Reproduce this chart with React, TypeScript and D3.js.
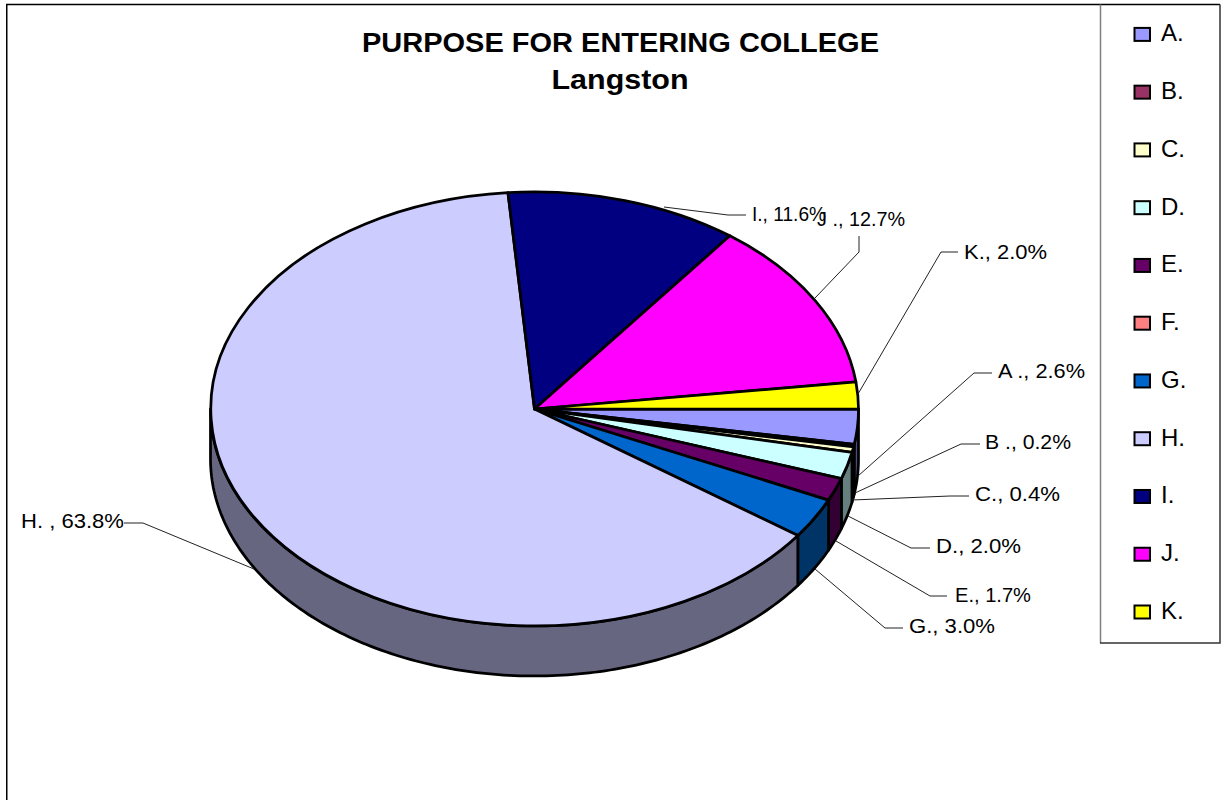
import React from "react";
import * as d3 from "d3";

// Survey shares for each stated purpose, in percent.
const categories = ["A.", "B.", "C.", "D.", "E.", "F.", "G.", "H.", "I.", "J.", "K."];
const shares = [2.6, 0.2, 0.4, 2.0, 1.7, 0.0, 3.0, 63.8, 11.6, 12.7, 2.0];
const colors = ["#9999FF", "#993366", "#FFFFCC", "#CCFFFF", "#660066", "#FF8080", "#0066CC", "#CCCCFF", "#000080", "#FF00FF", "#FFFF00"];
const sliceLabels = ["A ., 2.6%", "B ., 0.2%", "C., 0.4%", "D., 2.0%", "E., 1.7%", "", "G., 3.0%", "H. , 63.8%", "I., 11.6%", "J ., 12.7%", "K., 2.0%"];

// Label anchors, set widths and leader lines, by category letter.
const labelLayout: Record<string, { x: number; y: number; w: number; leader: [number, number][] }> = {
  "A.": { x: 998, y: 378, w: 87, leader: [[992, 373], [974, 373], [858, 476]] },
  "B.": { x: 985, y: 449, w: 86, leader: [[980, 444], [961, 444], [855, 493]] },
  "C.": { x: 975, y: 501, w: 85, leader: [[969, 496], [950, 496], [852, 500]] },
  "D.": { x: 936, y: 553, w: 85, leader: [[930, 548], [911, 548], [848, 516]] },
  "E.": { x: 955, y: 602, w: 76, leader: [[947, 596], [930, 596], [836, 541]] },
  "G.": { x: 909, y: 633, w: 86, leader: [[903, 628], [885, 628], [815, 569]] },
  "H.": { x: 21, y: 528, w: 103, leader: [[124, 523], [143, 523], [254, 569]] },
  "I.": { x: 752, y: 221, w: 74, leader: [[746, 215], [728, 215], [664, 207]] },
  "J.": { x: 817, y: 226, w: 88, leader: [[859, 236], [859, 252], [815, 298]] },
  "K.": { x: 964, y: 259, w: 83, leader: [[958, 252], [941, 252], [858, 394]] },
};

const width = 1221;
const height = 800;
const cx = 534.5;
const cy = 409;
const rx = 324;
const ry = 217;
const depth = 50;
const font = "'Liberation Sans', Arial, sans-serif";

const pie = d3
  .pie<number>()
  .sort(null)
  .startAngle(Math.PI / 2)
  .endAngle(Math.PI / 2 + 2 * Math.PI);
const arcs = pie(shares);
const topArc = d3.arc<d3.PieArcDatum<number>>().innerRadius(0).outerRadius(1);

const ellipsePoint = (a: number, dy = 0): [number, number] => [
  cx + rx * Math.sin(a),
  cy - ry * Math.cos(a) + dy,
];

// Outer wall of a slice: only the stretch facing the viewer is visible.
const wallPath = (start: number, end: number): string | null => {
  const a0 = Math.max(start, Math.PI / 2);
  const a1 = Math.min(end, (3 * Math.PI) / 2);
  if (a1 <= a0) return null;
  const n = Math.max(2, Math.ceil((a1 - a0) * 60));
  const rim = d3.range(n + 1).map((i) => a0 + ((a1 - a0) * i) / n);
  const pts = [
    ...rim.map((a) => ellipsePoint(a)),
    ...rim.slice().reverse().map((a) => ellipsePoint(a, depth)),
  ];
  return d3.line()(pts) + "Z";
};

const darken = (c: string) => {
  const { r, g, b } = d3.rgb(c);
  return d3.rgb(r / 2, g / 2, b / 2).formatHex();
};

const legendY = d3
  .scalePoint<string>()
  .domain(categories)
  .range([34.4, 612]);

export default function App() {
  return (
    <svg
      width={width}
      height={height}
      viewBox={`0 0 ${width} ${height}`}
      style={{ position: "absolute", left: 0, top: 0, display: "block", background: "#fff" }}
    >
      <path d={`M6.75 ${height}V4.5H1220`} fill="none" stroke="#000" strokeWidth={1.5} />

      <g fontFamily={font} fontWeight="bold" fontSize={27.5} fill="#000">
        <text x={362} y={52} textLength={517} lengthAdjust="spacingAndGlyphs">PURPOSE FOR ENTERING COLLEGE</text>
        <text x={551.5} y={89} textLength={137} lengthAdjust="spacingAndGlyphs">Langston</text>
      </g>

      {arcs.map((d, i) => {
        const p = d.value > 0 ? wallPath(d.startAngle, d.endAngle) : null;
        return p ? (
          <path key={categories[i]} d={p} fill={darken(colors[i])} stroke="#000" strokeWidth={2.75} strokeLinejoin="round" />
        ) : null;
      })}

      <g transform={`translate(${cx},${cy}) scale(${rx},${ry})`}>
        {arcs.map((d, i) =>
          d.value > 0 ? (
            <path
              key={categories[i]}
              d={topArc(d) as string}
              fill={colors[i]}
              stroke="#000"
              strokeWidth={2.75}
              strokeLinejoin="round"
              vectorEffect="non-scaling-stroke"
            />
          ) : null
        )}
      </g>

      {categories.map((c, i) => {
        const l = labelLayout[c];
        return l ? (
          <g key={c}>
            <polyline points={l.leader.map((p) => p.join(",")).join(" ")} fill="none" stroke="#222" strokeWidth={1} />
            <text x={l.x} y={l.y} textLength={l.w} lengthAdjust="spacingAndGlyphs" fontFamily={font} fontSize={21} fill="#000">
              {sliceLabels[i]}
            </text>
          </g>
        ) : null;
      })}

      <path d="M1100.5 4.5V643" fill="none" stroke="#808080" strokeWidth={1.5} />
      <path d="M1100 643H1220V4.5" fill="none" stroke="#333" strokeWidth={1.5} />
      {categories.map((c, i) => (
        <g key={c} transform={`translate(0,${legendY(c)})`}>
          <rect x={1134.5} y={-6.5} width={15.5} height={13} fill={colors[i]} stroke="#000" strokeWidth={2} />
          <text x={1161} y={7} fontFamily={font} fontSize={24} fill="#000">{c}</text>
        </g>
      ))}
    </svg>
  );
}
